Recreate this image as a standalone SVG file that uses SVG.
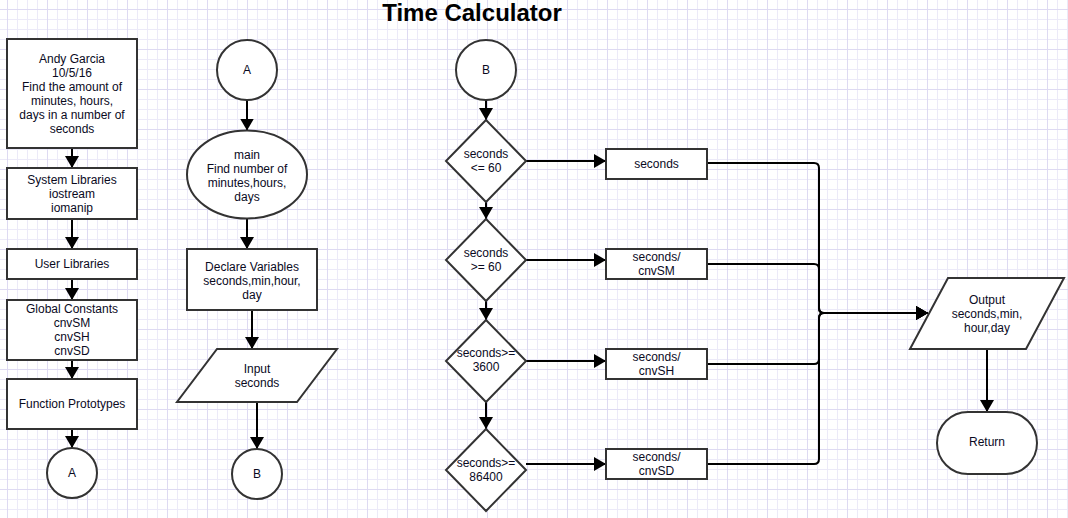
<svg xmlns="http://www.w3.org/2000/svg" width="1068" height="518" viewBox="0 0 1068 518">
<style>
.n{fill:#fff;stroke:#333;stroke-width:2}
.t{font-family:"Liberation Sans",Arial,sans-serif;font-size:12px;fill:#0a0a1e;text-anchor:middle}
.c{fill:none;stroke:#000;stroke-width:2;marker-end:url(#arr)}
.title{font-family:"Liberation Sans",Arial,sans-serif;font-size:24px;font-weight:bold;fill:#000;text-anchor:middle}
</style>
<defs>
<pattern id="grid" patternUnits="userSpaceOnUse" x="7" y="9" width="40" height="40">
<rect x="0" y="0" width="40" height="40" fill="#fff"/>
<g fill="#eceaf8">
<rect x="10" y="0" width="1" height="40"/><rect x="20" y="0" width="1" height="40"/><rect x="30" y="0" width="1" height="40"/>
<rect x="0" y="10" width="40" height="1"/><rect x="0" y="20" width="40" height="1"/><rect x="0" y="30" width="40" height="1"/>
</g>
<g fill="#dedaf2">
<rect x="0" y="0" width="1" height="40"/><rect x="0" y="0" width="40" height="1"/>
</g>
</pattern>
<marker id="arr" markerUnits="userSpaceOnUse" markerWidth="12" markerHeight="14" viewBox="0 0 12 14" refX="12" refY="7" orient="auto">
<path d="M0,0 L12,7 L0,14 z" fill="#000"/>
</marker>
</defs>
<rect x="0" y="0" width="1068" height="518" fill="url(#grid)"/>
<text class="title" x="472" y="21">Time Calculator</text>

<g id="connectors">
<path class="c" d="M72,148 V168"/>
<path class="c" d="M72,219 V249"/>
<path class="c" d="M72,279 V300"/>
<path class="c" d="M72,360 V379"/>
<path class="c" d="M72,429 V448"/>
<path class="c" d="M247,100 V130.5"/>
<path class="c" d="M247,218.5 V249"/>
<path class="c" d="M252,310 V349"/>
<path class="c" d="M257,402 V449"/>
<path class="c" d="M486,100 V120"/>
<path class="c" d="M486,202 V219"/>
<path class="c" d="M486,301 V320"/>
<path class="c" d="M486,402 V429"/>
<path class="c" d="M526,161 H606"/>
<path class="c" d="M526,260 H606"/>
<path class="c" d="M526,361 H606"/>
<path class="c" d="M526,464 H606"/>
<path class="c" d="M707,163 H814 Q819,163 819,168 V308 Q819,313 824,313 H928"/>
<path class="c" d="M707,264 H814 Q819,264 819,269 V308 Q819,313 824,313 H928"/>
<path class="c" d="M707,364 H814 Q819,364 819,359 V318 Q819,313 824,313 H928"/>
<path class="c" d="M707,464 H814 Q819,464 819,459 V318 Q819,313 824,313 H928"/>
<path class="c" d="M987,349 V412"/>
</g>

<g id="header">
<rect class="n" x="7" y="39" width="130" height="109"/>
<text class="t" x="72" y="63">Andy Garcia</text>
<text class="t" x="72" y="77">10/5/16</text>
<text class="t" x="72" y="91">Find the amount of</text>
<text class="t" x="72" y="105">minutes, hours,</text>
<text class="t" x="72" y="119">days in a number of</text>
<text class="t" x="72" y="133">seconds</text>
</g>
<g id="syslib">
<rect class="n" x="7" y="168" width="130" height="51"/>
<text class="t" x="72" y="184">System Libraries</text>
<text class="t" x="72" y="198">iostream</text>
<text class="t" x="72" y="212">iomanip</text>
</g>
<g id="userlib">
<rect class="n" x="7" y="249" width="130" height="30"/>
<text class="t" x="72" y="268">User Libraries</text>
</g>
<g id="globals">
<rect class="n" x="7" y="300" width="130" height="60"/>
<text class="t" x="72" y="313">Global Constants</text>
<text class="t" x="72" y="327">cnvSM</text>
<text class="t" x="72" y="341">cnvSH</text>
<text class="t" x="72" y="355">cnvSD</text>
</g>
<g id="protos">
<rect class="n" x="7" y="379" width="130" height="50"/>
<text class="t" x="72" y="408">Function Prototypes</text>
</g>
<g id="connA1">
<circle class="n" cx="72" cy="473" r="25"/>
<text class="t" x="72" y="477">A</text>
</g>

<g id="connA2">
<circle class="n" cx="247" cy="70" r="30"/>
<text class="t" x="247" y="74">A</text>
</g>
<g id="main">
<ellipse class="n" cx="247" cy="174.5" rx="60" ry="44"/>
<text class="t" x="247" y="159">main</text>
<text class="t" x="247" y="173">Find number of</text>
<text class="t" x="247" y="187">minutes,hours,</text>
<text class="t" x="247" y="201">days</text>
</g>
<g id="declare">
<rect class="n" x="187" y="249" width="130" height="61"/>
<text class="t" x="252" y="271">Declare Variables</text>
<text class="t" x="252" y="285">seconds,min,hour,</text>
<text class="t" x="252" y="299">day</text>
</g>
<g id="input">
<polygon class="n" points="217,349 337,349 297,402 177,402"/>
<text class="t" x="257" y="373">Input</text>
<text class="t" x="257" y="387">seconds</text>
</g>
<g id="connB1">
<circle class="n" cx="257" cy="474" r="25"/>
<text class="t" x="257" y="478">B</text>
</g>

<g id="connB2">
<circle class="n" cx="486" cy="70" r="30"/>
<text class="t" x="486" y="74">B</text>
</g>
<g id="dec1">
<polygon class="n" points="486,120 526,161 486,202 446,161"/>
<text class="t" x="486" y="158">seconds</text>
<text class="t" x="486" y="172">&lt;= 60</text>
</g>
<g id="dec2">
<polygon class="n" points="486,219 526,260 486,301 446,260"/>
<text class="t" x="486" y="257">seconds</text>
<text class="t" x="486" y="271">&gt;= 60</text>
</g>
<g id="dec3">
<polygon class="n" points="486,320 526,361 486,402 446,361"/>
<text class="t" x="486" y="357">seconds&gt;=</text>
<text class="t" x="486" y="371">3600</text>
</g>
<g id="dec4">
<polygon class="n" points="486,429 526,470 486,511 446,470"/>
<text class="t" x="486" y="467">seconds&gt;=</text>
<text class="t" x="486" y="481">86400</text>
</g>
<g id="out1">
<rect class="n" x="606" y="149" width="101" height="30"/>
<text class="t" x="656.5" y="168">seconds</text>
</g>
<g id="out2">
<rect class="n" x="606" y="249" width="101" height="30"/>
<text class="t" x="656.5" y="261">seconds/</text>
<text class="t" x="656.5" y="275">cnvSM</text>
</g>
<g id="out3">
<rect class="n" x="606" y="349" width="101" height="30"/>
<text class="t" x="656.5" y="361">seconds/</text>
<text class="t" x="656.5" y="375">cnvSH</text>
</g>
<g id="out4">
<rect class="n" x="606" y="449" width="101" height="30"/>
<text class="t" x="656.5" y="461">seconds/</text>
<text class="t" x="656.5" y="475">cnvSD</text>
</g>
<g id="output">
<polygon class="n" points="948,278 1064,278 1026,349 910,349"/>
<text class="t" x="987" y="304">Output</text>
<text class="t" x="987" y="318">seconds,min,</text>
<text class="t" x="987" y="332">hour,day</text>
</g>
<g id="return">
<rect class="n" x="937" y="412" width="100" height="62" rx="31" ry="31"/>
<text class="t" x="987" y="446">Return</text>
</g>
</svg>
